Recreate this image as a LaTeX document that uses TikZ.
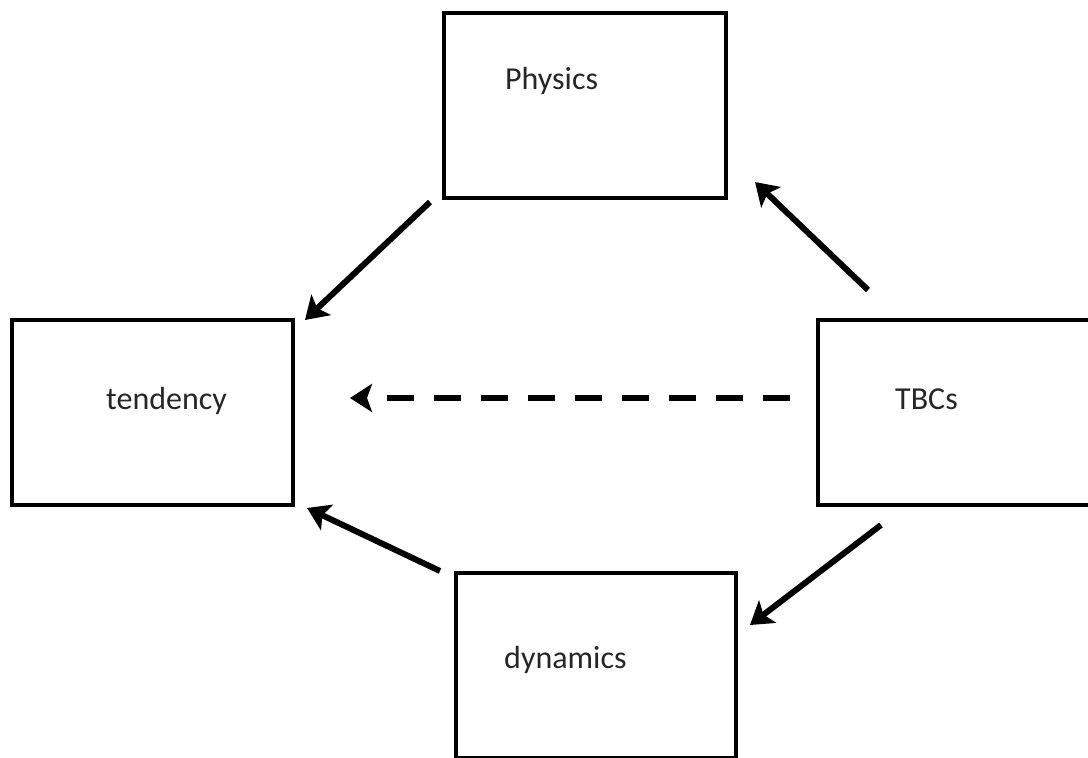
\documentclass[tikz,border=0pt]{standalone}
\usepackage{fontspec}
\setmainfont{Carlito}
\usetikzlibrary{arrows.meta}
\begin{document}
\begin{tikzpicture}[x=1pt,y=-1pt,
  box/.style={draw=black,line width=4pt,minimum width=#1,minimum height=185pt,inner sep=0pt},
  lbl/.style={font=\fontsize{32}{38}\selectfont,anchor=base west,inner sep=0pt,text=black!85},
  conn/.style={line width=6pt,-{Stealth[length=22pt,width=28pt,inset=5pt]}}]
\useasboundingbox (0,0) rectangle (1088,758);
\begin{scope}
\clip (0,0) rectangle (1088,758);
\node[box=282pt] (phys) at (585,105.5) {};
\node[box=281pt] (tend) at (152.5,412.5) {};
\node[box=290pt] (tbc) at (963,412.5) {};
\node[box=280pt] (dyn) at (596,665.5) {};
\end{scope}
\node[lbl] (physt) at (505,89) {Physics};
\node[lbl] (tendt) at (106,409) {tendency};
\node[lbl] (tbct) at (895,409) {TBCs};
\node[lbl] (dynt) at (504,668) {dynamics};
\coordinate (dstart) at (790,398);
\coordinate (dend) at (350,398);
\draw[conn] ([shift={(-12,2)}]phys.south west) -- ([shift={(10,2)}]tend.north east);
\draw[conn] ([shift={(52,-28)}]tbc.north west) -- ([shift={(27,-18)}]phys.south east);
\draw[conn,dash pattern=on 27pt off 20pt] (dstart) -- (dend);
\draw[conn] ([shift={(65,18)}]tbc.south west) -- ([shift={(12,54)}]dyn.north east);
\draw[conn] ([shift={(-14,0)}]dyn.north west) -- ([shift={(12,1)}]tend.south east);
\end{tikzpicture}
\end{document}
